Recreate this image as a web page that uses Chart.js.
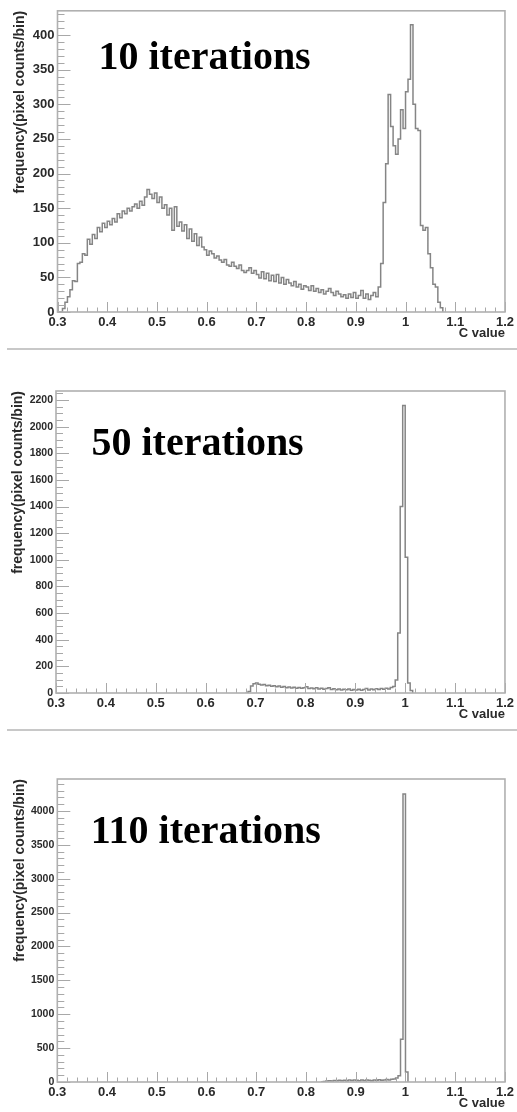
<!DOCTYPE html>
<html lang="en">
<head>
    <meta charset="UTF-8">
    <title>C value histograms</title>
    <script src="https://cdn.jsdelivr.net/npm/chart.js"></script>
    <style>
        body {
            margin: 0;
            background: #fff;
            width: 517px;
            height: 1112px;
            overflow: hidden;
            position: relative;
        }
        .panel {
            position: absolute;
            left: 0;
            width: 517px;
        }
        .sep {
            position: absolute;
            left: 7px;
            width: 510px;
            height: 2px;
            background: #c8c8c8;
        }
    </style>
</head>
<body>

<div class="panel" style="top:0;height:345px"><canvas id="h10" width="517" height="345"></canvas></div>
<div class="sep" style="top:348px"></div>
<div class="panel" style="top:350px;height:375px"><canvas id="h50" width="517" height="375"></canvas></div>
<div class="sep" style="top:729px"></div>
<div class="panel" style="top:732px;height:380px"><canvas id="h110" width="517" height="380"></canvas></div>

<script>
// histogram bins: width 0.005 in C value
const binWidth = 0.005;
const xTicks = [0.3, 0.4, 0.5, 0.6, 0.7, 0.8, 0.9, 1.0, 1.1, 1.2];

// 10 iterations, bins from C = 0.300
const start10 = 0.300;
const counts10 = [
    0, 0, 5, 14, 22, 32, 45, 44, 70, 72,
    84, 82, 105, 98, 112, 106, 122, 116, 128, 122,
    131, 126, 135, 130, 142, 136, 146, 142, 150, 146,
    152, 156, 150, 160, 154, 166, 177, 170, 164, 172,
    158, 166, 150, 155, 140, 150, 118, 152, 124, 130,
    117, 126, 106, 120, 102, 113, 96, 108, 94, 90,
    82, 88, 84, 78, 81, 75, 72, 76, 68, 66,
    72, 66, 63, 68, 60, 57, 60, 64, 56, 60,
    54, 49, 58, 48, 56, 45, 53, 44, 54, 42,
    50, 40, 47, 42, 38, 44, 36, 40, 33, 38,
    36, 31, 38, 30, 34, 28, 32, 26, 30, 34,
    28, 24, 30, 26, 22, 25, 20, 26, 21, 28,
    20, 24, 31, 20, 26, 18, 24, 28, 22, 36,
    70, 158, 214, 314, 268, 240, 228, 250, 292, 265,
    318, 336, 415, 300, 265, 262, 125, 118, 122, 84,
    64, 40, 36, 14, 6, 0
];

// 50 iterations, bins from C = 0.680
const start50 = 0.680;
const counts50 = [
    0, 12, 52, 70, 76, 66, 60, 64, 55, 58,
    50, 54, 46, 52, 44, 48, 40, 45, 38, 44,
    36, 42, 35, 40, 46, 34, 38, 32, 40, 30,
    36, 28, 34, 40, 26, 32, 24, 30, 22, 28,
    24, 30, 20, 26, 22, 28, 20, 26, 34, 22,
    30, 24, 32, 26, 34, 28, 36, 30, 42, 48,
    98, 450, 1400, 2160, 1020, 75, 18, 0
];

// 110 iterations, bins from C = 0.830
const start110 = 0.830;
const counts110 = [
    0, 8, 14, 20, 16, 22, 18, 26, 20, 24,
    18, 28, 22, 30, 24, 20, 28, 22, 30, 24,
    20, 28, 24, 32, 26, 30, 36, 28, 40, 46,
    60, 93, 632, 4250, 147, 0
];

const yTicks10 = [0, 50, 100, 150, 200, 250, 300, 350, 400];
const yTicks50 = [0, 200, 400, 600, 800, 1000, 1200, 1400, 1600, 1800, 2000, 2200];
const yTicks110 = [0, 500, 1000, 1500, 2000, 2500, 3000, 3500, 4000];

const axisFont = 'Liberation Sans';

// ROOT style ticks pointing into the frame, plus the frame itself
const frameTicks = {
    id: 'frameTicks',
    afterDatasetsDraw(chart, args, opts) {
        const {ctx, chartArea: a, scales: {x, y}} = chart;
        ctx.save();
        ctx.strokeStyle = '#a8a8a8';
        ctx.lineWidth = 1;
        ctx.beginPath();
        for (let i = 0; i <= 45; i++) {
            const px = Math.round(x.getPixelForValue(0.3 + i * 0.02)) + 0.5;
            const len = i % 5 === 0 ? 10 : 4.5;
            ctx.moveTo(px, a.bottom);
            ctx.lineTo(px, a.bottom - len);
        }
        const n = Math.floor(opts.yMax / opts.yMinor);
        for (let i = 0; i <= n; i++) {
            const v = i * opts.yMinor;
            const py = Math.round(y.getPixelForValue(v)) + 0.5;
            const len = v % opts.yStep === 0 ? 13 : 7;
            ctx.moveTo(a.left, py);
            ctx.lineTo(a.left + len, py);
        }
        ctx.stroke();
        ctx.lineWidth = 1.6;
        ctx.strokeStyle = '#b0b0b0';
        ctx.strokeRect(a.left, a.top, a.right - a.left, a.bottom - a.top);
        ctx.restore();
    },
    afterDraw(chart, args, opts) {
        const {ctx, chartArea: a} = chart;
        ctx.save();
        ctx.fillStyle = '#000';
        ctx.font = 'bold 40px "Liberation Serif", "Times New Roman", serif';
        ctx.textBaseline = 'alphabetic';
        ctx.fillText(opts.text, a.left + opts.textX, a.top + opts.textY);
        ctx.restore();
    }
};

function drawHistogram(id, start, counts, yTicks, p) {
    const points = counts.map((c, i) => ({x: start + i * binWidth, y: c}));
    const ctx = document.getElementById(id).getContext('2d');
    return new Chart(ctx, {
        type: 'line',
        data: {
            datasets: [{
                data: points,
                borderColor: '#858585',
                borderWidth: 1.5,
                pointRadius: 0,
                stepped: 'before',
                fill: false
            }]
        },
        options: {
            responsive: false,
            animation: false,
            events: [],
            layout: {padding: {top: p.top, right: p.right, bottom: p.bottom, left: 0}},
            plugins: {
                legend: {display: false},
                tooltip: {enabled: false},
                frameTicks: {
                    yMax: p.yMax, yStep: yTicks[1], yMinor: p.yMinor,
                    text: p.text, textX: p.textX, textY: p.textY
                }
            },
            scales: {
                x: {
                    type: 'linear',
                    min: xTicks[0],
                    max: xTicks[xTicks.length - 1],
                    afterBuildTicks: s => { s.ticks = xTicks.map(v => ({value: v})); },
                    afterFit: s => { s.height = 30; },
                    grid: {display: false, drawTicks: false},
                    border: {display: false},
                    ticks: {
                        padding: 3,
                        maxRotation: 0,
                        autoSkip: false,
                        color: '#2a2a2a',
                        font: {family: axisFont, size: 13, weight: 'bold'},
                        callback: v => String(Math.round(v * 10) / 10)
                    },
                    title: {
                        display: true,
                        text: 'C value',
                        align: 'end',
                        color: '#2a2a2a',
                        padding: {top: 0, bottom: 1},
                        font: {family: axisFont, size: 13, weight: 'bold'}
                    }
                },
                y: {
                    min: 0,
                    max: p.yMax,
                    afterBuildTicks: s => { s.ticks = yTicks.map(v => ({value: v})); },
                    afterFit: s => { s.width = p.yWidth; },
                    grid: {display: false, drawTicks: false},
                    border: {display: false},
                    ticks: {
                        padding: 3,
                        autoSkip: false,
                        color: '#2a2a2a',
                        font: {family: axisFont, size: p.yFont, weight: 'bold'},
                        callback: v => String(v)
                    },
                    title: {
                        display: true,
                        text: 'frequency(pixel counts/bin)',
                        align: 'end',
                        color: '#2a2a2a',
                        padding: {top: p.titlePad, bottom: 0},
                        font: {family: axisFont, size: 14, weight: 'bold'}
                    }
                }
            }
        },
        plugins: [frameTicks]
    });
}

drawHistogram('h10', start10, counts10, yTicks10, {
    top: 7, right: 9.5, bottom: 3, yWidth: 57.5, yMax: 435, yMinor: 10, yFont: 13,
    titlePad: 11.5, text: '10 iterations', textX: 41, textY: 58
});
drawHistogram('h50', start50, counts50, yTicks50, {
    top: 41, right: 9.5, bottom: 2, yWidth: 56, yMax: 2268, yMinor: 50, yFont: 10.5,
    titlePad: 9.5, text: '50 iterations', textX: 35.5, textY: 64
});
drawHistogram('h110', start110, counts110, yTicks110, {
    top: 47, right: 9.3, bottom: 0, yWidth: 57.3, yMax: 4470, yMinor: 100, yFont: 10.5,
    titlePad: 11.5, text: '110 iterations', textX: 33.5, textY: 64
});
</script>

</body>
</html>
